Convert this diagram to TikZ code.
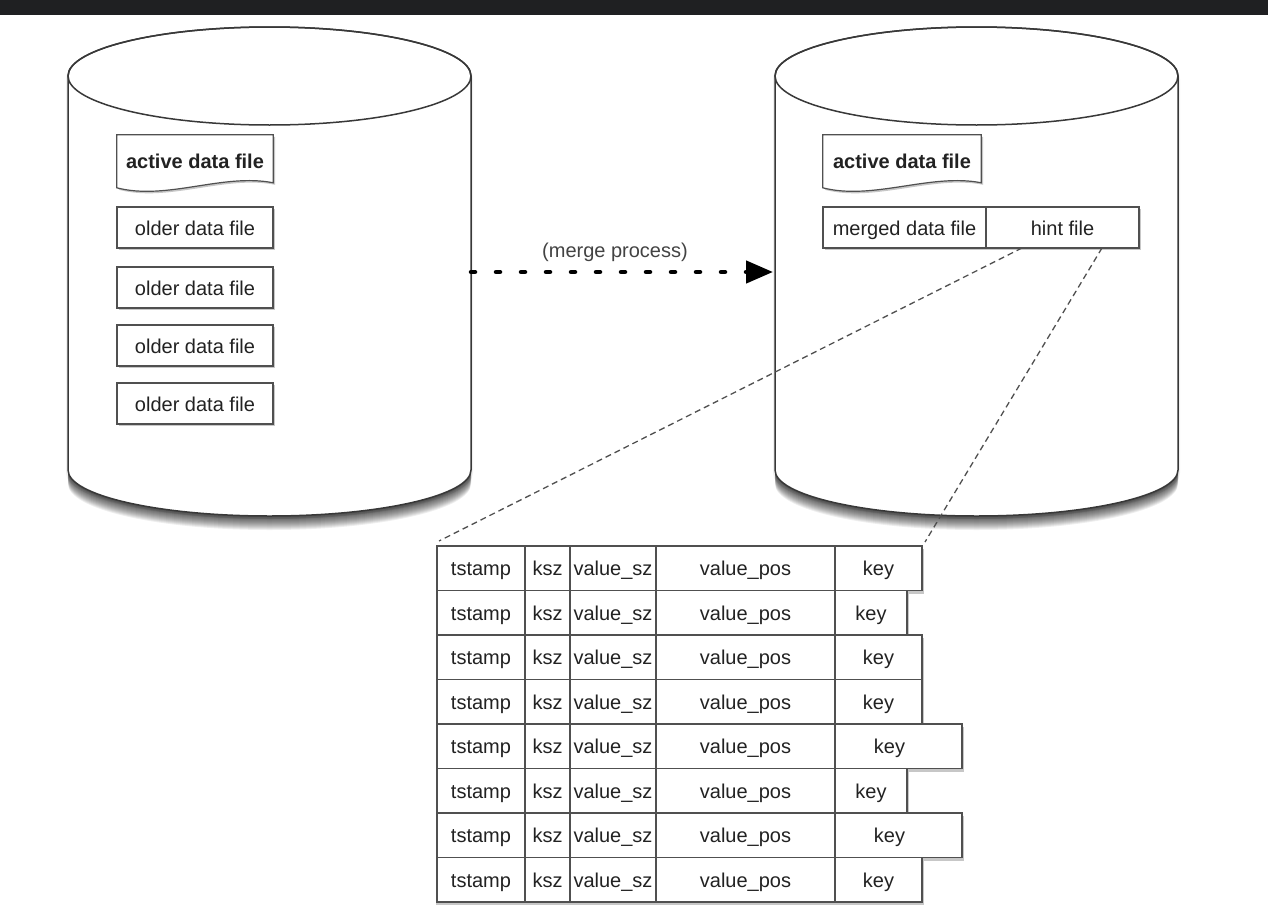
\documentclass[tikz,border=0pt]{standalone}
\usepackage{fontspec}
\setmainfont{Liberation Sans}
\usetikzlibrary{arrows.meta,calc}
\definecolor{topbar}{HTML}{1F2022}
\definecolor{ink}{HTML}{222222}
\definecolor{edge}{HTML}{505050}
\definecolor{cyledge}{HTML}{383838}
\pgfdeclarelayer{canvas}
\pgfdeclarelayer{back}
\pgfdeclarelayer{mid}
\pgfsetlayers{canvas,back,mid,main}
\newcommand{\cylpath}[1]{(#1-201.5,76) -- (#1-201.5,470) arc[start angle=180,end angle=0,x radius=201.5,y radius=46] -- (#1+201.5,76) arc[start angle=0,end angle=-180,x radius=201.5,y radius=49] -- cycle}
\begin{document}
\begin{tikzpicture}[x=1pt,y=-1pt,
  font=\fontsize{20}{24}\selectfont,
  every node/.style={text height=17pt,text depth=2pt},
  boxline/.style={draw=edge,line width=1.2pt},
  filebox/.style={boxline,fill=white,minimum width=156pt,minimum height=41pt,inner sep=0pt,outer sep=0pt,text=ink},
  docbox/.style={boxline,fill=white},
  cell/.style={draw=edge,line width=1.1pt,fill=white,minimum height=44.5pt,inner sep=0pt,outer sep=0pt,anchor=west,text=ink},
  conn/.style={draw=edge,line width=1.3pt,dash pattern=on 6pt off 4pt},
  mergearrow/.style={line width=4.5pt,line cap=round,dash pattern=on 4pt off 21pt,-{Triangle[length=27pt,width=22pt]}},
  softshadow/.style={fill=black,opacity=0.22}
]
\useasboundingbox (0,0) rectangle (1268,918);
\begin{pgfonlayer}{canvas}
\fill[white] (0,0) rectangle (1268,918);
\fill[topbar] (0,0) rectangle (1268,15);
\end{pgfonlayer}

% cylinders
\begin{pgfonlayer}{back}
\foreach \cx in {269.5,976.5}{
  \foreach \k in {1,...,14}{
    \fill[black,opacity=0.065,shift={(0,\k)}] \cylpath{\cx};
  }
  \foreach \k in {-2,2}{
    \fill[black,opacity=0.06,shift={(\k,3)}] \cylpath{\cx};
  }
  \fill[white] \cylpath{\cx};
  \draw[cyledge,line width=1.5pt] \cylpath{\cx};
  \draw[cyledge,line width=1.5pt] (\cx,76) ellipse[x radius=201.5,y radius=49];
}
\end{pgfonlayer}
\coordinate (Lside) at (471,272);
\coordinate (Rside) at (773,272);

% left cylinder content
\node[font=\fontsize{20}{24}\selectfont\bfseries,text=ink,minimum width=156pt,minimum height=52pt,inner sep=0pt] (Lact) at (195,161) {active data file};
\node[filebox] (Lold1) at (195,227.5) {older data file};
\node[filebox] (Lold2) at (195,287.5) {older data file};
\node[filebox] (Lold3) at (195,345.5) {older data file};
\node[filebox] (Lold4) at (195,403.5) {older data file};

% right cylinder content
\node[font=\fontsize{20}{24}\selectfont\bfseries,text=ink,minimum width=158pt,minimum height=52pt,inner sep=0pt] (Ract) at (902,161) {active data file};
\node[filebox,minimum width=163pt] (merged) at (904.5,227.5) {merged data file};
\node[filebox,minimum width=153pt,anchor=west] (hint) at (merged.east) {hint file};

\begin{pgfonlayer}{mid}
\foreach \n in {Lact,Ract}{
  \fill[softshadow] ($(\n.north west)+(2,2)$) -- ($(\n.north east)+(2,2)$) -- ($(\n.north east)+(2,50)$) .. controls ($(\n.north east)+(-48,40)$) and ($(\n.north west)+(52,68)$) .. ($(\n.north west)+(2,55)$) -- cycle;
  \draw[docbox] (\n.north west) -- (\n.north east) -- ($(\n.north east)+(0,48)$) .. controls ($(\n.north east)+(-50,38)$) and ($(\n.north west)+(50,66)$) .. ($(\n.north west)+(0,53)$) -- cycle;
}
\foreach \n in {Lold1,Lold2,Lold3,Lold4,merged,hint}{
  \fill[softshadow] ($(\n.north west)+(2,2)$) rectangle ($(\n.south east)+(2,2)$);
}
\end{pgfonlayer}

% merge arrow
\draw[mergearrow] (Lside) -- (Rside);
\node[text=ink!85] (mlabel) at (615,250) {(merge process)};

% hint file table
\foreach \i/\kw/\ks in {1/87/0,2/72/0,3/87/0,4/87/0,5/127/18,6/72/0,7/127/18,8/87/0}{
  \pgfmathsetmacro\yy{546+44.5*(\i-0.5)}
  \node[cell,minimum width=88pt] (t\i) at (437,\yy) {tstamp};
  \node[cell,minimum width=45pt] (k\i) at (t\i.east) {ksz};
  \node[cell,minimum width=86pt] (s\i) at (k\i.east) {value\_sz};
  \node[cell,minimum width=179pt] (p\i) at (s\i.east) {value\_pos};
  \node[cell,minimum width=\kw pt] (y\i) at (p\i.east) {key\hspace*{\ks pt}};
  \begin{pgfonlayer}{mid}
    \fill[softshadow] ($(t\i.north west)+(-1,3)$) rectangle ($(y\i.south east)+(2,3)$);
  \end{pgfonlayer}
}

% zoom connectors
\draw[conn] ($(hint.south west)!0.235!(hint.south east)$) -- ($(t1.north west)+(2,-5)$);
\draw[conn] ($(hint.south west)!0.758!(hint.south east)$) -- ($(y1.north east)+(3,-4)$);
\end{tikzpicture}
\end{document}
